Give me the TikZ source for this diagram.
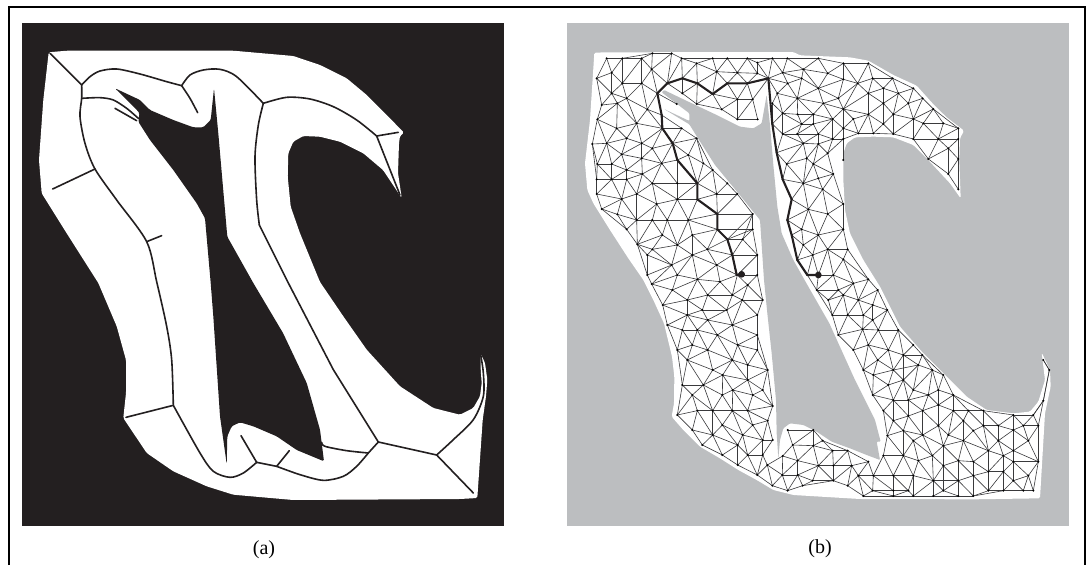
\documentclass[tikz,border=0pt]{standalone}
\usepackage{fontspec}
\setmainfont{Liberation Serif}
\definecolor{panelblack}{HTML}{231F20}
\definecolor{panelgrey}{HTML}{BCBEC0}
\definecolor{meshink}{HTML}{3A3A3C}
\tikzset{
  frameline/.style={draw=black,line width=2pt},
  skel/.style={draw=panelblack,line width=1.6pt,line cap=round,line join=round},
  meshedge/.style={draw=meshink,line width=0.6pt},
  meshdot/.style={fill=black},
  routeline/.style={draw=panelblack,line width=2.1pt,line join=round},
  caption/.style={font=\fontsize{20}{24}\selectfont,inner sep=0pt}
}
% ---------- region outlines of panel a (pixel coordinates)
\newcommand\regionpath{(48.7,52.3)--(66.7,50.7)--(233.3,50.7)--(293.3,56)--(320,65)--(346.7,78.3)--(366.7,95)--(386.7,115)--(404,132.7)--(400,136)--(399,143)--(398,173)--(401.7,198)--(383,170)--(363.3,153.3)--(340,141.7)--(320,136.7)--(303.3,136)--(293.3,141.7)--(288.3,153.3)--(287.7,176.7)--(290.7,206.7)--(300,233.3)--(320,282)--(343.3,316.3)--(366.7,349.7)--(400,386.3)--(433.3,408)--(460,414.7)--(473.3,408)--(480,396.3)--(481.7,383)--(480.7,370)--(480.7,353.7)--(485,363)--(487.3,379.7)--(486,396.3)--(482.7,419.7)--(477.3,498)--(460,499)--(293.3,500)--(233.3,494.7)--(206.7,486.3)--(173.3,471.3)--(146.7,453)--(123.3,418)--(126,393)--(126,360)--(116.7,326.3)--(98.3,283)--(66.7,233.3)--(41.7,193.3)--(39,160)--(43.3,100)--cycle}
\newcommand\holepath{(115,88.3)--(140,100)--(150,110)--(173.3,120)--(193.3,127.3)--(203.3,127.3)--(210.7,120)--(214,88.3)--(218.3,133.3)--(227.3,236.7)--(253.3,283)--(283,333)--(306.7,383)--(320,429.7)--(324,461.3)--(296.7,450)--(276.7,436.3)--(253.3,426.3)--(240,422.3)--(231.7,426.3)--(227.3,436.3)--(226.7,464)--(220,416.3)--(213.3,316.3)--(210.7,283)--(205,218.3)--(196.7,203.3)--(173.3,170)--(150,140)--(138.3,121.7)--(139.5,113)--(135,108)--(127,100)--cycle}
% ---------- outlines of panel b, in thirds of a pixel from (560,20); no mesh edge crosses them
\let\mshSeg\relax
\def\mshPoly{}
\newcommand\addpoly[2]{\gdef\firstpt{}\gdef#1{}%
  \foreach \a/\b in {#2}{%
    \ifx\firstpt\empty \xdef\firstpt{{\a}{\b}}\else
      \xdef\mshPoly{\mshPoly\mshSeg\prevpt{\a}{\b}}\fi
    \xdef\prevpt{{\a}{\b}}%
    \xdef#1{#1(\a,\b)--}}%
  \xdef\mshPoly{\mshPoly\mshSeg\prevpt\firstpt}}
\addpoly\regionB{103/98,140/97,700/96,720/106,870/112,925/122,1000/165,1070/197,1122/255,1160/292,1212/332,1200/355,1198/420,1202/535,1170/490,1105/420,1060/375,1000/352,940/350,885/352,860/370,850/400,850/480,855/570,870/640,910/720,960/800,1020/920,1090/1000,1160/1070,1220/1130,1280/1170,1360/1180,1410/1175,1435/1145,1455/1080,1445/998,1470/1050,1472/1100,1455/1180,1440/1435,1240/1438,900/1437,700/1425,640/1410,590/1380,535/1350,480/1315,420/1280,370/1230,335/1190,342/1150,343/1070,336/1010,312/910,280/840,250/780,205/715,150/630,100/550,82/510,75/430,90/300}
\addpoly\holeB{312/210,385/245,470/285,540/320,580/325,605/310,620/225,630/315,640/435,652/560,665/640,700/720,745/800,808/910,885/1080,915/1140,945/1200,962/1265,950/1265,960/1320,920/1305,870/1285,815/1265,770/1235,730/1215,690/1210,670/1225,660/1260,655/1315,650/1240,648/1140,635/1000,622/880,612/780,600/600,535/520,465/435,412/352,388/313,312/267,388/303,388/280,305/217}
% ---------- mesh vertices
\newcount\nv
\newcommand\addpts[3]{\foreach \a/\b in {#3}{\global\advance\nv1
  \expandafter\xdef\csname vx\the\nv\endcsname{\the\numexpr\a+#1\relax}%
  \expandafter\xdef\csname vy\the\nv\endcsname{\the\numexpr\b+#2\relax}}}
\addpts{0}{0}{140/115,187/115,245/115,277/100,335/100,365/115,410/130,458/115,502/115,562/115,592/128,637/115,682/115,
110/175,155/158,187/190,245/190,275/148,322/190,367/175,412/190,470/155,532/158,592/160,625/175,668/158,683/190,652/220,712/235,668/280,713/283,637/250,637/312,
292/220,155/220,200/235,125/255,172/250,262/268,112/298,170/325,230/310,305/285,307/325,350/252,367/220,410/252,458/222,502/190,562/190,532/238,578/238,485/268,532/298,593/298,
140/370,97/372,200/355,245/370,277/385,365/325,410/355,338/370,385/405,352/420,305/430,245/415,185/403,112/432,155/432,200/450,247/462,155/478,110/478,200/478,230/522,185/537,110/522,125/567,172/583,230/600,290/552,277/490,352/490,412/490,412/538,352/538,430/430,458/450,470/522,502/490,532/522,472/582,472/628,578/582,385/600,322/600,277/600,200/628,232/673,277/688,307/645,352/675,397/645,442/688,502/658,548/658,592/705,517/705,397/705,335/735,262/705,262/765,352/765,412/778,470/735,532/765,592/765,578/628,
668/342,650/398,712/342,680/432,668/478,695/538,682/600,695/645,712/720}
\addpts{720}{0}{55/115,130/130,205/130,10/148,83/160,130/178,173/190,218/175,278/175,340/205,5/175,55/205,115/235,205/220,250/205,295/220,368/235,400/267,430/310,475/325,70/250,130/267,205/283,250/250,325/250,280/283,340/297,370/310,40/283,98/297,160/297,40/312,130/325,175/340,220/340,250/312,280/342,340/357,415/357,475/357,5/312,55/342,98/357,130/357,10/370,55/372,83/400,130/420,385/417,445/385,475/417,445/462,475/508,20/415,40/432,100/462,55/475,10/490,68/508,130/552,25/568,83/582,130/628,5/628,55/645,143/688,83/688,38/705,130/718,100/765,55/765,22/765,205/778,10/675}
\addpts{0}{780}{275/12,337/30,382/60,308/75,443/45,517/45,563/15,547/60,608/60,480/5,382/105,427/90,500/90,592/105,322/135,367/150,412/150,443/120,517/135,472/165,592/165,397/195,352/210,443/210,533/195,592/210,382/240,517/240,458/270,563/255,623/270,488/285,563/300,367/315,430/315,608/330,397/345,487/345,518/330,578/345,638/378,352/405,412/392,458/392,517/392,563/392,623/422,397/450,487/435,578/435,458/465,548/465,608/480,638/480,427/495,533/495,487/525,563/525,608/525,533/555,592/585,622/555,667/585,637/617,683/632,683/450,698/495,668/528,713/542,713/585}
\addpts{720}{780}{50/30,115/30,160/10,233/30,130/45,85/60,175/60,218/75,262/90,97/105,143/105,190/105,218/120,115/165,188/148,235/150,295/150,160/210,205/195,265/210,340/195,190/270,233/240,310/225,367/225,220/285,280/270,355/255,397/270,430/285,265/315,310/300,340/330,415/330,385/345,218/345,280/360,325/360,460/345,250/392,325/408,368/392,415/375,460/392,505/392,550/392,640/405,700/405,730/362,748/270,730/240,
280/422,415/437,490/422,550/437,595/437,640/450,670/437,715/437,262/467,310/452,368/465,340/482,445/465,520/452,595/482,685/482,430/497,490/482,565/512,640/512,250/527,310/527,397/527,355/542,475/542,520/545,610/527,640/545,715/545,220/587,280/587,340/587,430/557,400/602,520/587,565/575,610/575,640/602,685/587,700/632,670/632,610/632,565/632,218/632,280/632,325/632,430/632,475/602,190/648,280/648,340/648,400/648,475/648,520/648,
40/450,68/482,98/512,143/512,205/545,40/497,55/557,100/557,155/557,175/587,100/602,143/617,38/602,8/617}
% ---------- empty-circle test that picks the edges between the vertices
\newcount\mshI\newcount\mshJ\newcount\mshK
\newcount\mshXa\newcount\mshYa\newcount\mshXb\newcount\mshYb
\newcount\mshNx\newcount\mshNy\newcount\mshLen\newcount\mshSx\newcount\mshSy
\newcount\mshPx\newcount\mshPy\newcount\mshS\newcount\mshQ\newcount\mshT
\newcount\mshLo\newcount\mshUp
\newcount\mshOa\newcount\mshOb\newcount\mshOc\newcount\mshOd
\newcount\mshMax \mshMax=12100
\newcount\mshRad \mshRad=300
\newif\ifmshkeep
\def\vxof#1{\csname vx\number#1\endcsname}
\def\vyof#1{\csname vy\number#1\endcsname}
\def\mshOuter{\ifnum\mshI<\nv \advance\mshI1 \mshJ=\mshI \mshInner \expandafter\mshOuter\fi}
\def\mshInner{\ifnum\mshJ<\nv \advance\mshJ1 \mshEdge \expandafter\mshInner\fi}
\def\mshKloop{\ifnum\mshK<\nv \advance\mshK1 \mshTestK \expandafter\mshKloop\fi}
\def\mshEdge{%
  \mshXa=\vxof\mshI\relax \mshYa=\vyof\mshI\relax
  \mshXb=\vxof\mshJ\relax \mshYb=\vyof\mshJ\relax
  \mshNx=\numexpr\mshYa-\mshYb\relax
  \mshNy=\numexpr\mshXb-\mshXa\relax
  \mshLen=\numexpr\mshNx*\mshNx+\mshNy*\mshNy\relax
  \ifnum\mshLen<\mshMax
    \mshSx=\numexpr\mshXa+\mshXb\relax
    \mshSy=\numexpr\mshYa+\mshYb\relax
    \mshkeeptrue \mshLo=-1000000000 \mshUp=1000000000
    \mshK=0 \mshKloop
    \ifnum\mshLo>\mshUp \mshkeepfalse\fi
    \ifnum\mshLo=\mshUp \ifnum\numexpr\mshNx*\mshNy\relax<0 \mshkeepfalse\fi\fi
    \ifmshkeep \mshPoly \fi
    \ifmshkeep \draw[meshedge] (v\the\mshI)--(v\the\mshJ);\fi
  \fi}
\def\mshTestK{%
  \mshPx=\numexpr2*\vxof\mshK-\mshSx\relax
  \ifnum\mshPx<\mshRad \ifnum\mshPx>-\mshRad
    \mshPy=\numexpr2*\vyof\mshK-\mshSy\relax
    \ifnum\mshPy<\mshRad \ifnum\mshPy>-\mshRad
      \ifnum\mshK=\mshI\else\ifnum\mshK=\mshJ\else
        \mshS=\numexpr\mshPx*\mshNx+\mshPy*\mshNy\relax
        \mshQ=\numexpr\mshPx*\mshPx+\mshPy*\mshPy-\mshLen\relax
        \ifnum\mshS=0
          \ifnum\mshQ<0 \mshkeepfalse\fi
        \else
          \mshT=\numexpr\mshQ*1000/\mshS\relax
          \ifnum\mshS>0
            \ifnum\mshT<\mshUp \mshUp=\mshT\fi
          \else
            \ifnum\mshT>\mshLo \mshLo=\mshT\fi
          \fi
        \fi
      \fi\fi
    \fi\fi
  \fi\fi}
\def\mshOrient#1#2#3#4#5#6{\numexpr(#3-#1)*(#6-#2)-(#4-#2)*(#5-#1)\relax}
\def\mshSeg#1#2#3#4{%
  \mshOa=\mshOrient{#1}{#2}{#3}{#4}{\mshXa}{\mshYa}\relax
  \mshOb=\mshOrient{#1}{#2}{#3}{#4}{\mshXb}{\mshYb}\relax
  \mshOc=\mshOrient{\mshXa}{\mshYa}{\mshXb}{\mshYb}{#1}{#2}\relax
  \mshOd=\mshOrient{\mshXa}{\mshYa}{\mshXb}{\mshYb}{#3}{#4}\relax
  \ifnum\mshOa>0 \mshOa=1 \else \mshOa=-1 \fi
  \ifnum\mshOb>0 \mshOb=1 \else \mshOb=-1 \fi
  \ifnum\mshOc>0 \mshOc=1 \else \mshOc=-1 \fi
  \ifnum\mshOd>0 \mshOd=1 \else \mshOd=-1 \fi
  \ifnum\mshOa=\mshOb\else\ifnum\mshOc=\mshOd\else\mshkeepfalse\fi\fi}
\begin{document}
\begin{tikzpicture}[x=1pt,y=-1pt]
\useasboundingbox (0,0) rectangle (1086,565);
\draw[frameline] (8.5,565)--(8.5,7)--(1084.5,7)--(1084.5,565);
% ---------- panel (a)
\fill[panelblack] (21.5,23) rectangle (504,526);
\fill[white,rounded corners=1.5pt] \regionpath;
\fill[panelblack,rounded corners=1.5pt] \holepath;
\begin{scope}[x=0.33333pt,y=-0.33333pt]
\draw[skel] plot[smooth,tension=.5] coordinates {(150,160)(245,255)};
\draw[skel] plot[smooth,tension=.5] coordinates {(245,255)(270,230)(300,213)(350,207)(420,222)(500,245)(545,257)};
\draw[skel] plot[smooth,tension=.5] coordinates {(245,255)(245,295)(240,350)(255,430)(285,507)(350,600)(440,725)(470,845)(500,979)(515,1079)(520,1216)};
\draw[skel] (285,507)--(158,567);
\draw[skel] (440,725)--(485,707);
\draw[skel] plot[smooth,tension=.5] coordinates {(245,295)(300,293)(340,300)(380,325)(415,355)};
\draw[skel] (345,325)--(410,362);
\draw[skel] plot[smooth,tension=.5] coordinates {(545,257)(570,295)(593,338)};
\draw[skel] plot[smooth,tension=.5] coordinates {(545,257)(570,225)(610,210)(660,208)(710,230)(790,310)};
\draw[skel] plot[smooth,tension=.5] coordinates {(790,310)(775,375)(765,470)(770,600)(778,675)};
\draw[skel] (778,675)--(865,849)--(1000,1109)--(1135,1326);
\draw[skel] plot[smooth,tension=.5] coordinates {(790,310)(860,292)(930,297)(1000,320)(1070,360)(1130,408)};
\draw[skel] (1130,408)--(1195,397);
\draw[skel] (1130,408)--(1200,585);
\draw[skel] (520,1216)--(378,1252);
\draw[skel] plot[smooth,tension=.5] coordinates {(520,1216)(600,1359)(640,1414)(690,1432)(730,1419)(770,1387)};
\draw[skel] (770,1387)--(723,1307);
\draw[skel] (770,1387)--(830,1399)--(868,1352);
\draw[skel] plot[smooth,tension=.5] coordinates {(830,1399)(900,1424)(970,1441)(1030,1429)(1070,1399)(1105,1359)};
\draw[skel] plot[smooth,tension=.5] coordinates {(965,1327)(975,1339)(1040,1352)(1105,1359)};
\draw[skel] (1105,1359)--(1135,1326)--(1310,1365)--(1420,1479);
\draw[skel] plot[smooth,tension=.5] coordinates {(1310,1365)(1360,1319)(1420,1259)(1450,1189)(1450,1119)(1442,1064)};
\end{scope}
\node[caption] (capa) at (264,550) {(a)};
% ---------- panel (b)
\fill[panelgrey] (567,23) rectangle (1069,526);
\begin{scope}[shift={(560,20)},x=0.33333pt,y=-0.33333pt]
\fill[white,rounded corners=1.5pt] \regionB cycle;
\fill[panelgrey,rounded corners=1pt] \holeB cycle;
\mshI=0
\loop\ifnum\mshI<\nv \advance\mshI1
  \coordinate (v\the\mshI) at (\vxof\mshI,\vyof\mshI);
\repeat
\mshI=0 \mshOuter
\draw[meshedge] (1450,1020)--(1468,1050)--(1450,1142)--(1420,1185);
\mshI=0
\loop\ifnum\mshI<\nv \advance\mshI1
  \fill[meshdot] (v\the\mshI) circle[radius=3.3];
\repeat
\draw[routeline] (545,763)--(530,765)--(517,705)--(502,658)--(472,628)--(472,582)--(412,538)--(412,490)--(352,420)--(338,370)--(307,325)--(305,285)--(292,220)--(322,190)--(367,175)--(412,190)--(458,222)--(502,190)--(562,190)--(625,175)--(637,312)--(650,398)--(668,478)--(695,538)--(682,600)--(695,645)--(712,720)--(742,765)--(775,765);
\fill[panelblack] (545,763) circle[radius=10];
\fill[panelblack] (775,765) circle[radius=10];
\end{scope}
\node[caption] (capb) at (820,549) {(b)};
\end{tikzpicture}
\end{document}
